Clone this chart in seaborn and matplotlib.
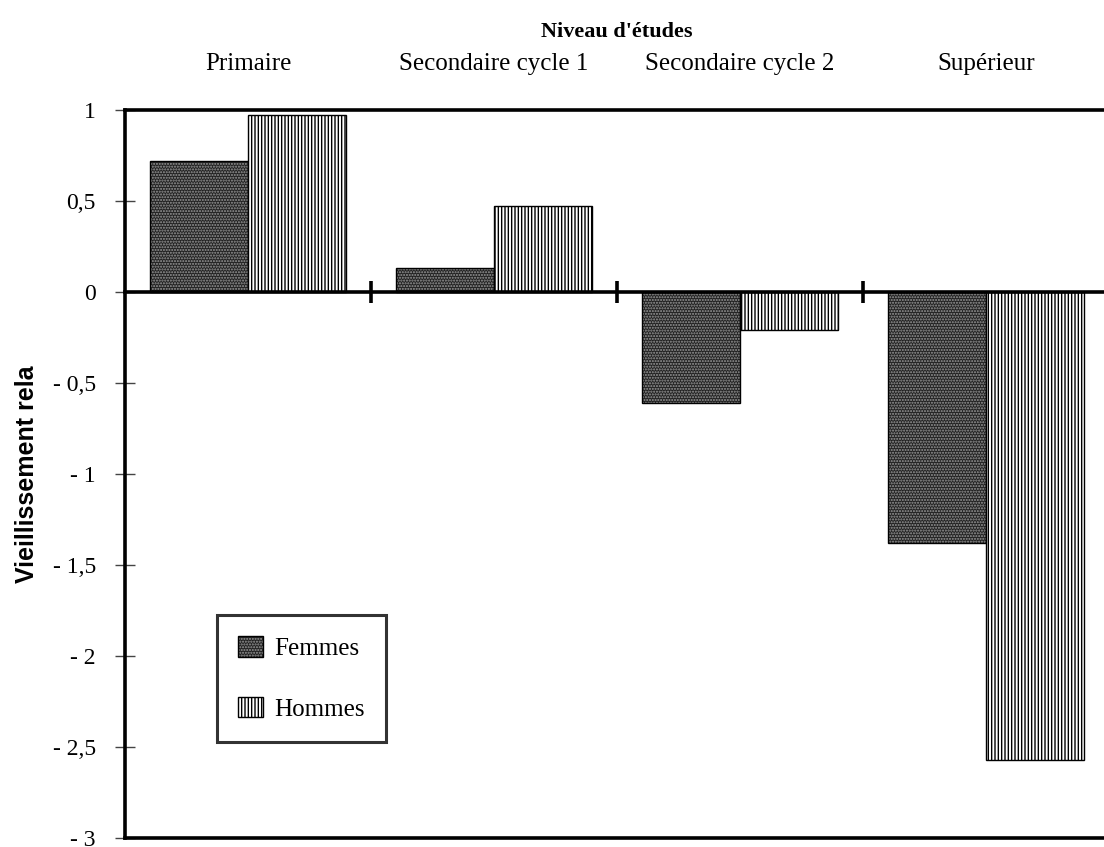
import matplotlib
matplotlib.use("Agg")
import matplotlib.pyplot as plt
import matplotlib.colors as mcolors
import seaborn as sns
import pandas as pd
import numpy as np

categories = ["Primaire", "Secondaire cycle 1", "Secondaire cycle 2", "Supérieur"]
femmes = [0.72, 0.13, -0.61, -1.38]
hommes = [0.97, 0.47, -0.21, -2.57]
series_names = ["Femmes", "Hommes"]
ytick_values = [1, 0.5, 0, -0.5, -1, -1.5, -2, -2.5, -3]
ytick_labels = ["1", "0,5", "0", "- 0,5", "- 1", "- 1,5", "- 2", "- 2,5", "- 3"]
title = "Niveau d'études"
ylabel = "Vieillissement rela"

df = pd.DataFrame({
    "cat": categories * 2,
    "val": femmes + hommes,
    "sexe": [series_names[0]] * len(categories) + [series_names[1]] * len(categories),
})

sns.set_theme(style="white")
plt.rcParams["font.family"] = ["Liberation Serif", "DejaVu Serif"]
plt.rcParams["hatch.linewidth"] = 1.0
for k in ["text.color", "axes.labelcolor", "xtick.color", "ytick.color"]:
    plt.rcParams[k] = "black"

fig = plt.figure(figsize=(11.04, 8.47), dpi=100)
ax = fig.add_axes([125 / 1104, 9 / 847, 984 / 1104, 728 / 847])

# zero axis with category separator ticks (twin created first)
ax2 = ax.twiny()

sns.barplot(data=df, x="cat", y="val", hue="sexe", order=categories,
            hue_order=series_names, palette=["#222222", "white"],
            width=0.8, gap=0, saturation=1, ax=ax, legend=False)

hatch_colors = ["#9a9a9a", "black"]
for cont, hatch, hcol in zip(ax.containers, ["......", "|||||"], hatch_colors):
    for p in cont:
        p.set_edgecolor("black")
        p.set_linewidth(1.0)
        p.set_hatch(hatch)
        p._hatch_color = mcolors.to_rgba(hcol)

ax.set_xlim(-0.5, len(categories) - 0.5)
ax.set_ylim(min(ytick_values), max(ytick_values))

for s in ["left", "top", "bottom", "right"]:
    ax.spines[s].set_color("black")
    ax.spines[s].set_linewidth(2.6)

# y ticks
ax.set_yticks(ytick_values)
ax.set_yticklabels(ytick_labels, fontsize=17)
ax.tick_params(axis="y", direction="inout", length=14, width=1.0, color="#444444",
               pad=14, left=True)

# top category labels
ax.xaxis.tick_top()
ax.xaxis.set_label_position("top")
ax.set_xticks(range(len(categories)))
ax.set_xticklabels(categories, fontsize=18)
ax.tick_params(axis="x", length=0, pad=25, top=True, bottom=False,
               labeltop=True, labelbottom=False)
ax.set_xlabel(title, fontsize=16, fontweight="bold", labelpad=12)

ax.set_ylabel(ylabel, fontsize=18, fontweight="bold",
              family=["Liberation Sans", "DejaVu Sans"], labelpad=10)

ax2.set_xlim(ax.get_xlim())
for s in ["left", "top", "right"]:
    ax2.spines[s].set_visible(False)
ax2.spines["bottom"].set_position(("data", 0))
ax2.spines["bottom"].set_linewidth(2.6)
ax2.spines["bottom"].set_color("black")
ax2.xaxis.set_ticks_position("bottom")
ax2.set_xticks(np.arange(len(categories) - 1) + 0.5)
ax2.set_xticklabels([])
ax2.tick_params(axis="x", direction="inout", length=16, width=2.6, color="black",
                top=False, labeltop=False)
ax2.set_zorder(ax.get_zorder() + 1)
ax2.patch.set_visible(False)

leg = ax.legend(handles=list(ax.containers), labels=series_names,
                loc="lower left", bbox_to_anchor=(0.0935, 0.132), borderaxespad=0,
                fontsize=18, frameon=True, fancybox=False, shadow=False,
                handlelength=1.0, handleheight=0.9, handletextpad=0.45,
                labelspacing=1.45, borderpad=0.85)
leg.get_frame().set_edgecolor("black")
leg.get_frame().set_linewidth(2.2)
leg.get_frame().set_facecolor("white")
for h, hcol in zip(leg.legend_handles, hatch_colors):
    h._hatch_color = mcolors.to_rgba(hcol)

fig.savefig("out.png", dpi=100)
